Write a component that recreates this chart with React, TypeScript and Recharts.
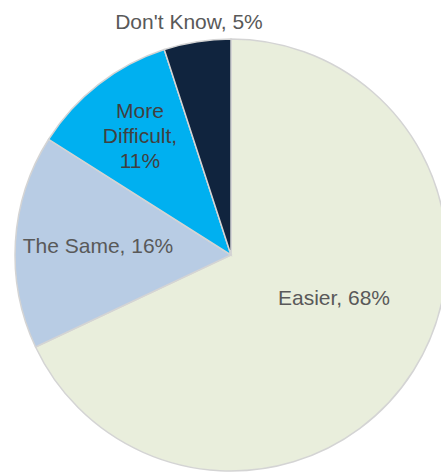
import React from "react";
import { PieChart, Pie, Cell } from "recharts";

const categories = ["Easier", "The Same", "More Difficult", "Don't Know"];
const values = [68, 16, 11, 5];
const colors = ["#E9EEDC", "#B8CCE4", "#00B0F0", "#10243E"];

// label text lines per slice
const labelLines: string[][] = [
  ["Easier, 68%"],
  ["The Same, 16%"],
  ["More", "Difficult,", "11%"],
  ["Don't Know, 5%"],
];
// label anchor offsets relative to pie center (style, not data)
const labelOffsets = [
  { dx: 103, dy: 42 },
  { dx: -133, dy: -10 },
  { dx: -91, dy: -120 },
  { dx: -42, dy: -234 },
];
const labelColors = ["#595959", "#595959", "#404040", "#595959"];

const data = categories.map((name, i) => ({ name, value: values[i] }));

const renderLabel = (props: any) => {
  const { cx, cy, index } = props;
  const lines = labelLines[index];
  const off = labelOffsets[index];
  const lh = 25;
  const startY = cy + off.dy - ((lines.length - 1) * lh) / 2;
  return (
    <text
      x={cx + off.dx}
      y={startY}
      textAnchor="middle"
      dominantBaseline="central"
      fill={labelColors[index]}
      fontFamily="'Liberation Sans', Arial, sans-serif"
      fontSize={21}
    >
      {lines.map((l, i) => (
        <tspan key={i} x={cx + off.dx} dy={i === 0 ? 0 : lh}>
          {l}
        </tspan>
      ))}
    </text>
  );
};

export default function App() {
  return (
    <div style={{ position: "absolute", left: 0, top: 0, width: 441, height: 474, background: "#fff" }}>
      <PieChart width={441} height={474} margin={{ top: 0, right: 0, bottom: 0, left: 0 }}>
        <Pie
          data={data}
          dataKey="value"
          nameKey="name"
          cx={231}
          cy={255}
          outerRadius={216}
          startAngle={90}
          endAngle={-270}
          stroke="#D4D4D4"
          strokeWidth={1.5}
          label={renderLabel}
          labelLine={false}
          isAnimationActive={false}
        >
          {data.map((d, i) => (
            <Cell key={d.name} fill={colors[i]} />
          ))}
        </Pie>
      </PieChart>
    </div>
  );
}
